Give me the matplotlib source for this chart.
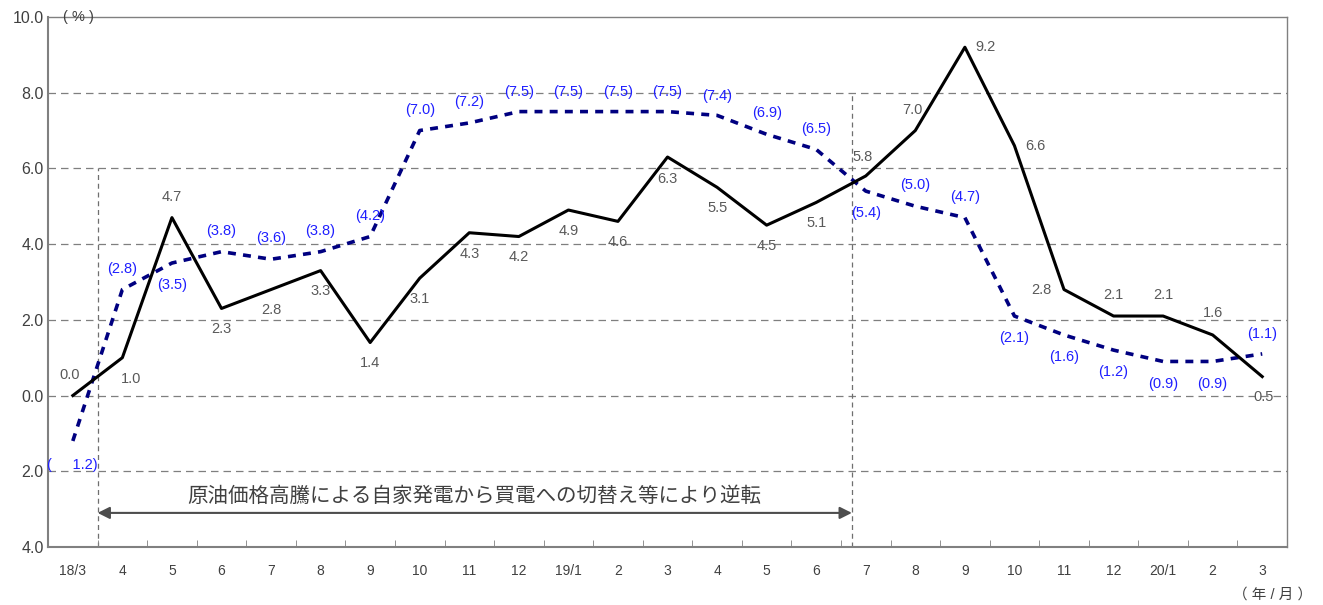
import matplotlib
matplotlib.use("Agg")
import matplotlib.pyplot as plt
import numpy as np

plt.rcParams['font.family'] = ['Liberation Sans', 'Noto Sans CJK JP', 'DejaVu Sans']

months = ["18/3", "4", "5", "6", "7", "8", "9", "10", "11", "12",
          "19/1", "2", "3", "4", "5", "6", "7", "8", "9", "10", "11", "12",
          "20/1", "2", "3"]
black_vals = [0.0, 1.0, 4.7, 2.3, 2.8, 3.3, 1.4, 3.1, 4.3, 4.2, 4.9, 4.6, 6.3,
              5.5, 4.5, 5.1, 5.8, 7.0, 9.2, 6.6, 2.8, 2.1, 2.1, 1.6, 0.5]
blue_vals = [-1.2, 2.8, 3.5, 3.8, 3.6, 3.8, 4.2, 7.0, 7.2, 7.5, 7.5, 7.5, 7.5,
             7.4, 6.9, 6.5, 5.4, 5.0, 4.7, 2.1, 1.6, 1.2, 0.9, 0.9, 1.1]
y_ticks = [10, 8, 6, 4, 2, 0, -2, -4]
y_ticklabels = ["10.0", "8.0", "6.0", "4.0", "2.0", "0.0", "2.0", "4.0"]

# label offsets in points (dx, dy)
black_off = [(-2, 15), (6, -15), (0, 15), (0, -15), (0, -15), (0, -15), (0, -15),
             (0, -15), (0, -15), (0, -15), (0, -15), (0, -15), (0, -16),
             (0, -15), (0, -15), (0, -15), (-2, 14), (-2, 15), (15, 0), (15, 0),
             (-16, 0), (0, 15), (0, 15), (0, 16), (1, -15)]
blue_off = [(0, -17), (0, 15), (0, -16), (0, 15), (0, 15), (0, 15), (0, 15),
            (0, 15), (0, 15), (0, 14), (0, 14), (0, 14), (0, 14), (0, 14),
            (0, 15), (0, 15), (0, -16), (0, 15), (0, 15), (0, -16), (0, -16),
            (0, -16), (0, -16), (0, -16), (0, 14)]

fig = plt.figure(figsize=(13.23, 6.05), dpi=100)
ax = fig.add_axes([0.0363, 0.0959, 0.9365, 0.8761])

x = np.arange(len(months))
ax.set_xlim(-0.5, len(months) - 0.5)
ax.set_ylim(-4, 10)

for yv in [8, 6, 4, 2, 0, -2]:
    ax.axhline(yv, color="#7f7f7f", lw=0.9, dashes=(6, 4), zorder=1)

ax.plot([0.5, 0.5], [-4, 6], color="#6f6f6f", lw=0.9, dashes=(4, 3), zorder=1)
ax.plot([15.72, 15.72], [-4, 8], color="#6f6f6f", lw=0.9, dashes=(4, 3), zorder=1)

ax.plot(x, blue_vals, color="#000080", lw=2.6, dashes=(2.2, 2.0), zorder=3)
ax.plot(x, black_vals, color="black", lw=2.2, zorder=4)

for i, v in enumerate(black_vals):
    ax.annotate(f"{v:.1f}", (i, v), xytext=black_off[i], textcoords="offset points",
                ha="center", va="center", fontsize=10.5, color="#595959", zorder=5)
for i, v in enumerate(blue_vals):
    txt = f"({abs(v):.1f})"
    if i == 0:
        txt = "(     1.2)"
    ax.annotate(txt, (i, v), xytext=blue_off[i], textcoords="offset points",
                ha="center", va="center", fontsize=10.5, color="#1f1fff", zorder=5)

ax.annotate("", xy=(0.5, -3.1), xytext=(15.72, -3.1),
            arrowprops=dict(arrowstyle="<|-|>", color="#4d4d4d", lw=1.5,
                            mutation_scale=18, shrinkA=0, shrinkB=0))
ax.text(8.1, -2.65, "原油価格高騰による自家発電から買電への切替え等により逆転",
        ha="center", va="center", fontsize=14.8, color="#404040")

ax.set_yticks(y_ticks)
ax.set_yticklabels(y_ticklabels, fontsize=11.5, color="#404040")
ax.tick_params(axis="y", length=0, pad=3)
ax.set_xticks(x)
ax.set_xticklabels(months, fontsize=10, color="#404040")
ax.set_xticks(np.arange(0.5, len(months) - 0.5, 1), minor=True)
ax.tick_params(axis="x", which="major", length=0, pad=12)
ax.tick_params(axis="x", which="minor", direction="in", length=5, color="#808080")

for sp in ax.spines.values():
    sp.set_color("#808080")
    sp.set_linewidth(1.0)
ax.spines["bottom"].set_linewidth(1.5)
ax.spines["left"].set_linewidth(1.5)

fig.text(0.0475, 0.972, "( % )", ha="left", va="center", fontsize=10.5, color="#404040")
fig.text(0.992, 0.018, "（ 年 / 月 ）", ha="right", va="center", fontsize=10.5, color="#404040")

fig.savefig("out.png", dpi=100)
